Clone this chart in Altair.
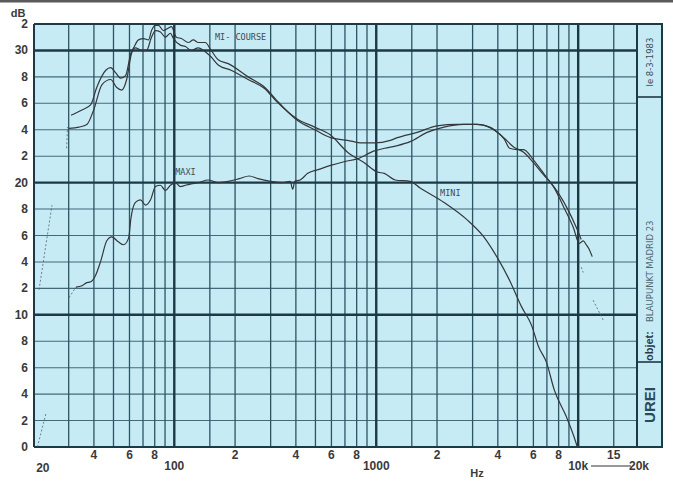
import altair as alt
import pandas as pd

# ---- measured response curves: frequency (Hz) and level (dB) ----
mi_course_hz = [30.8, 34.9, 38.6, 41.3, 45.8, 48.4, 51.3, 54.3, 57.4, 61, 62.9, 66.5, 70.5,
                74.6, 77.1, 80.7, 83.5, 88.4, 93.6, 96.8, 102.4, 108.4, 117.4, 124.2, 131.5,
                142.3, 152.3, 165, 185, 232, 281, 318, 408, 496, 594, 721, 850, 979, 1174,
                1271, 1594, 2000, 2510, 3148, 3648, 4276, 4789, 5368, 6013, 6730, 7544,
                8446, 9464, 10127, 10600, 10966, 11300, 11736]
mi_course_db = [25.1, 25.5, 25.9, 27.2, 28.5, 28.7, 28.3, 27.9, 28.1, 29.8, 30.2, 30.8, 30.9,
                30.8, 31.5, 31.9, 31.9, 31.5, 31.7, 31.8, 31.0, 30.9, 30.6, 30.8, 30.6,
                30.6, 30.0, 29.3, 29.0, 28.0, 27.2, 26.3, 24.7, 24.0, 23.4, 23.2, 23.0, 23.0,
                23.2, 23.4, 23.8, 24.3, 24.4, 24.4, 24.2, 23.4, 22.7, 22.3, 21.5, 20.6, 19.7,
                18.2, 16.6, 15.4, 15.6, 15.3, 15.0, 14.4]

mini_hz = [30.1, 33.7, 36.9, 39.9, 43.8, 48.4, 51.9, 54.9, 58.1, 61.5, 64.2, 68.9, 72.9,
           77.1, 80.7, 85.4, 90.4, 95.7, 99, 107.2, 113.5, 121.4, 131.5, 142.3, 152.3, 165,
           191, 232, 281, 318, 408, 496, 594, 721, 873, 1012, 1096, 1242, 1472, 1648, 2166,
           2812, 3409, 3952, 4577, 5246, 5877, 6360, 6966, 7620, 8734, 9572, 9900]
mini_db = [24.1, 24.2, 24.4, 25.5, 27.4, 27.8, 27.2, 27.0, 27.8, 29.8, 30.2, 30.0, 30.0,
           31.0, 31.5, 31.4, 31.0, 31.3, 30.9, 30.4, 30.3, 30.0, 30.2, 29.9, 29.5, 28.9,
           28.5, 27.8, 27.1, 26.2, 24.8, 24.2, 23.6, 22.3, 21.5, 20.8, 20.7, 20.2, 20.1,
           19.6, 18.5, 17.2, 15.9, 14.4, 12.6, 10.6, 9.2, 7.6, 6.4, 4.3, 2.3, 0.7, 0.0]

maxi_hz = [32.6, 34.9, 36.5, 38.6, 40.8, 43.3, 46.3, 49, 53, 56.1, 59.4, 61, 64.2, 68, 72.1,
           76.3, 80.7, 85.4, 90.4, 95.7, 101.3, 107.2, 113.5, 121.4, 131.5, 147, 165, 185,
           210, 235, 260, 300, 340, 375, 386, 395, 420, 458, 520, 594, 700, 807, 979, 1100,
           1271, 1472, 1786, 2166, 2716, 3148, 3818, 4300, 4577, 5000, 5368, 6013, 6966,
           7980, 8934, 9790, 10352]
maxi_db = [12.1, 12.2, 12.4, 12.5, 13.0, 14.1, 15.6, 15.9, 15.5, 15.3, 15.8, 17.3, 18.5, 18.7,
           18.3, 18.7, 19.7, 19.8, 19.4, 19.8, 20.0, 19.7, 19.8, 19.9, 20.0, 20.2, 20.0, 20.1,
           20.3, 20.5, 20.3, 20.1, 20.0, 20.1, 19.5, 20.1, 20.2, 20.7, 21.0, 21.3, 21.6, 21.8,
           22.4, 22.6, 22.8, 23.1, 23.8, 24.2, 24.4, 24.4, 24.0, 23.3, 22.6, 22.5, 22.5, 21.7,
           20.4, 19.2, 17.9, 16.6, 15.7]

# faint dotted pen traces where the recorder pen lifted
pen_seg = ["a", "a", "b", "b", "c", "c", "d", "d", "e", "e", "f", "f"]
pen_hz = [21.0, 23.2, 21.4, 24.8, 29.3, 29.6, 30.1, 32.6, 10352, 10592, 11860, 13300]
pen_db = [0.0, 2.6, 11.9, 18.3, 22.6, 24.2, 11.3, 12.1, 13.6, 13.2, 11.1, 9.6]

# ---- chart paper grid ----
grid_minor_hz = [30, 40, 50, 60, 70, 80, 90, 150, 200, 300, 400, 500, 600, 700, 800, 900,
                 1500, 2000, 3000, 4000, 5000, 6000, 7000, 8000, 9000, 15000]
grid_major_hz = [100, 1000, 10000]
grid_minor_db = [2, 4, 6, 8, 12, 14, 16, 18, 22, 24, 26, 28]
grid_major_db = [10, 20, 30]

# ---- tick labels ----
y_tick_db = [0, 2, 4, 6, 8, 10, 12, 14, 16, 18, 20, 22, 24, 26, 28, 30, 32]
y_tick_text = ["0", "2", "4", "6", "8", "10", "2", "4", "6", "8", "20",
               "2", "4", "6", "8", "30", "2"]
x_upper_hz = [40, 60, 80, 200, 400, 600, 800, 2000, 4000, 6000, 8000, 15000]
x_upper_text = ["4", "6", "8", "2", "4", "6", "8", "2", "4", "6", "8", "15"]
x_lower_hz = [100, 1000, 10000, 20000]
x_lower_text = ["100", "1000", "10k", "20k"]

# curve names written on the paper
curve_label_hz = [159, 101, 2070]
curve_label_db = [31.0, 20.8, 19.2]
curve_label_text = ["MI- COURSE", "MAXI", "MINI"]

W, H = 629, 423
PAPER_EDGE = 603  # right border of the graph field, px from left of plot
INK = "#34383b"
GRID = "#2c5463"
GRID_DARK = "#1c3a46"
LABEL = "#3a3a3a"

X_SCALE = alt.Scale(type="log", domain=[20.2, 26300], nice=False)
Y_SCALE = alt.Scale(domain=[0, 32], nice=False, zero=False)


def xq():
    return alt.X("hz:Q", scale=X_SCALE, axis=None)


def yq():
    return alt.Y("db:Q", scale=Y_SCALE, axis=None)


def df(**cols):
    return pd.DataFrame(cols)


v_minor = alt.Chart(df(hz=grid_minor_hz)).mark_rule(
    color=GRID, strokeWidth=1.3).encode(x=xq())
v_major = alt.Chart(df(hz=grid_major_hz)).mark_rule(
    color=GRID_DARK, strokeWidth=2.4).encode(x=xq())
h_minor = alt.Chart(df(db=grid_minor_db)).mark_rule(
    color=GRID, strokeWidth=1.1, opacity=0.85).encode(
    y=yq(), x=alt.value(0), x2=alt.value(PAPER_EDGE))
h_major = alt.Chart(df(db=grid_major_db)).mark_rule(
    color=GRID_DARK, strokeWidth=2.4).encode(
    y=yq(), x=alt.value(0), x2=alt.value(PAPER_EDGE))

# frame of the graph field and the title strip on the right
frame_v = alt.Chart(df(px=[0, PAPER_EDGE, W - 1])).mark_rule(
    color=GRID_DARK, strokeWidth=2).encode(
    x=alt.X("px:Q", scale=None), y=alt.value(0), y2=alt.value(H))
frame_h = alt.Chart(df(py=[0, H])).mark_rule(
    color=GRID_DARK, strokeWidth=2).encode(
    y=alt.Y("py:Q", scale=None), x=alt.value(0), x2=alt.value(W))
strip_div = alt.Chart(df(py=[73, 338])).mark_rule(
    color=GRID_DARK, strokeWidth=1.6).encode(
    y=alt.Y("py:Q", scale=None), x=alt.value(PAPER_EDGE), x2=alt.value(W))
scan_edge = alt.Chart(df(py=[-23])).mark_rule(
    color="#5a5a5a", strokeWidth=3).encode(
    y=alt.Y("py:Q", scale=None), x=alt.value(-34), x2=alt.value(W + 10))

strip_x = 616
date_txt = alt.Chart(df(t=["le 8-3-1983"])).mark_text(
    angle=270, font="DejaVu Sans", fontSize=8.5, color="#3d4d55", baseline="middle",
    align="center").encode(text="t:N", x=alt.value(strip_x), y=alt.value(38))
objet_txt = alt.Chart(df(t=["objet:"])).mark_text(
    angle=270, font="Liberation Sans", fontWeight="bold", fontSize=11, color="#2e3a40",
    baseline="middle", align="left").encode(text="t:N", x=alt.value(strip_x), y=alt.value(337))
model_txt = alt.Chart(df(t=["BLAUPUNKT MADRID 23"])).mark_text(
    angle=270, font="DejaVu Sans", fontSize=8.5, color="#4f6670", baseline="middle",
    align="left").encode(text="t:N", x=alt.value(strip_x), y=alt.value(298))
logo_txt = alt.Chart(df(t=["UREI"])).mark_text(
    angle=270, font="Liberation Sans", fontWeight="bold", fontSize=15, color="#2b4a58",
    baseline="middle", align="center").encode(text="t:N", x=alt.value(strip_x), y=alt.value(381))

# response curves
curve_mi = alt.Chart(df(hz=mi_course_hz, db=mi_course_db)).mark_line(
    color=INK, strokeWidth=1.2, interpolate="monotone").encode(x=xq(), y=yq())
curve_mini = alt.Chart(df(hz=mini_hz, db=mini_db)).mark_line(
    color=INK, strokeWidth=1.2, interpolate="monotone").encode(x=xq(), y=yq())
curve_maxi = alt.Chart(df(hz=maxi_hz, db=maxi_db)).mark_line(
    color=INK, strokeWidth=1.2, interpolate="monotone").encode(x=xq(), y=yq())
pen = alt.Chart(df(seg=pen_seg, hz=pen_hz, db=pen_db)).mark_line(
    color="#50585c", strokeWidth=1, strokeDash=[2, 2], opacity=0.75).encode(
    x=xq(), y=yq(), detail="seg:N")

curve_names = alt.Chart(df(hz=curve_label_hz, db=curve_label_db, t=curve_label_text)).mark_text(
    font="DejaVu Sans Mono", fontSize=8.5, color="#454a4d", align="left",
    baseline="middle").encode(x=xq(), y=yq(), text="t:N")

# axis lettering
y_labels = alt.Chart(df(db=y_tick_db, t=y_tick_text)).mark_text(
    font="Liberation Sans", fontWeight="bold", fontSize=12, color=LABEL,
    align="right", baseline="middle").encode(y=yq(), x=alt.value(-6), text="t:N")
db_title = alt.Chart(df(t=["dB"])).mark_text(
    font="Liberation Sans", fontWeight="bold", fontSize=11, color=LABEL,
    align="center", baseline="middle").encode(text="t:N", x=alt.value(-16), y=alt.value(-10))
x_upper = alt.Chart(df(hz=x_upper_hz, t=x_upper_text)).mark_text(
    font="Liberation Sans", fontWeight="bold", fontSize=12, color=LABEL,
    align="center", baseline="middle").encode(x=xq(), y=alt.value(H + 8), text="t:N")
x_lower = alt.Chart(df(hz=x_lower_hz, t=x_lower_text)).mark_text(
    font="Liberation Sans", fontWeight="bold", fontSize=12, color=LABEL,
    align="center", baseline="middle").encode(x=xq(), y=alt.value(H + 19), text="t:N")
x_first = alt.Chart(df(hz=[20], t=["20"])).mark_text(
    font="Liberation Sans", fontWeight="bold", fontSize=12, color=LABEL,
    align="left", baseline="middle", dx=3).encode(x=xq(), y=alt.value(H + 21), text="t:N")
hz_title = alt.Chart(df(t=["Hz"])).mark_text(
    font="Liberation Sans", fontWeight="bold", fontSize=11, color=LABEL,
    align="center", baseline="middle").encode(text="t:N", x=alt.value(443), y=alt.value(H + 27))
# pen stroke linking the 10k and 20k marks
range_stroke = alt.Chart(df(py=[H + 19])).mark_rule(
    color="#2f3335", strokeWidth=1.2).encode(
    y=alt.Y("py:Q", scale=None), x=alt.value(557), x2=alt.value(597))

chart = alt.layer(
    v_minor, h_minor, h_major, v_major, frame_v, frame_h, strip_div, scan_edge,
    date_txt, objet_txt, model_txt, logo_txt,
    pen, curve_maxi, curve_mini, curve_mi, curve_names,
    y_labels, db_title, x_upper, x_lower, x_first, hz_title, range_stroke,
).properties(
    width=W, height=H,
    autosize=alt.AutoSizeParams(type="none"),
    padding={"left": 34, "top": 24, "right": 10, "bottom": 38},
    background="white",
).configure_view(fill="#c6ebf5", strokeWidth=0)

chart.save("out.html", embed_options={"renderer": "svg", "actions": False})
